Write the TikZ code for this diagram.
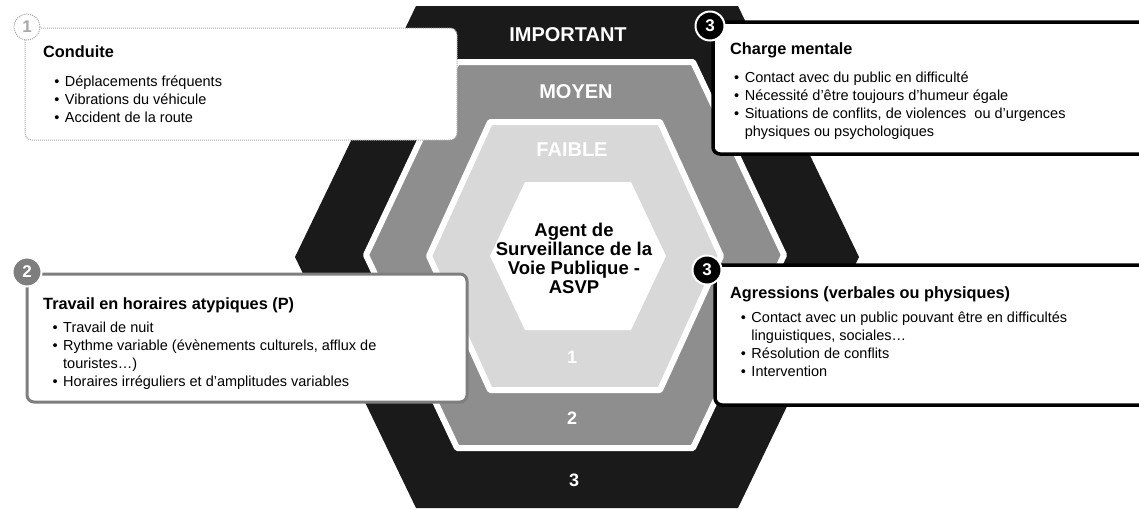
\documentclass[tikz,border=0pt]{standalone}
\usepackage{fontspec}
\setmainfont{Liberation Sans}
\definecolor{ringthree}{HTML}{1A1A1A}
\definecolor{ringtwo}{HTML}{8E8E8E}
\definecolor{ringone}{HTML}{D8D8D8}
\definecolor{cardgray}{HTML}{7E7E7E}
\definecolor{fadedgray}{HTML}{A8A8A8}
\begin{document}
\begin{tikzpicture}[x=1pt,y=-1pt]
\tikzset{
  ringlabel/.style={text=white, inner sep=0pt, font=\bfseries\fontsize{20}{22}\selectfont},
  ringnum/.style={text=white, inner sep=0pt, font=\bfseries\fontsize{18}{20}\selectfont},
  card/.style={fill=white, rounded corners=7pt, inner sep=0pt},
  cardtitle/.style={anchor=base west, inner sep=0pt, font=\bfseries\fontsize{16.3}{19}\selectfont},
  cardlist/.style={anchor=north west, inner sep=0pt, align=left, font=\fontsize{14.5}{18}\selectfont},
  badge/.style={circle, minimum size=29pt, inner sep=0pt, text=white,
                font=\bfseries\fontsize{17}{19}\selectfont},
}
\newcommand{\bulletlist}[1]{\begin{tabular}{@{}l@{\hspace{5.5pt}}l@{}}#1\end{tabular}}

\useasboundingbox (0,0) rectangle (1139,509);
\clip (0,0) rectangle (1139,509);

% concentric hexagons: important / moyen / faible
\fill[ringthree] (416,6) -- (738,6) -- (859,257) -- (738,508) -- (416,508) -- (295,257) -- cycle;
\filldraw[fill=ringtwo, draw=white, line width=6pt, line join=round]
  (457,62) -- (693,62) -- (784,255) -- (693,448) -- (457,448) -- (366,255) -- cycle;
\filldraw[fill=ringone, draw=white, line width=6pt, line join=round]
  (490,122) -- (660,122) -- (721,256) -- (660,390) -- (490,390) -- (429,256) -- cycle;
\fill[white] (525,182) -- (631,182) -- (666,256) -- (631,330) -- (525,330) -- (490,256) -- cycle;

% ring labels
\node[ringlabel] (limp) at (568,35) {IMPORTANT};
\node[ringlabel] (lmoy) at (576,92) {MOYEN};
\node[ringlabel, text=white] (lfai) at (572,150) {FAIBLE};
\node[ringnum] (n1) at (572,357) {1};
\node[ringnum] (n2) at (572,418) {2};
\node[ringnum] (n3) at (574,480) {3};

\node[align=center, inner sep=0pt, font=\bfseries\fontsize{18.5}{19}\selectfont] (centre) at (574,258)
  {Agent de\\Surveillance de la\\Voie Publique -\\ASVP};

% card 1 : Conduite (faded)
\node[card, draw=fadedgray, densely dotted, line width=1pt, minimum width=432pt, minimum height=112pt]
  (c1) at (241,84) {};
\node[badge, draw=fadedgray, densely dotted, line width=1pt, fill=white, text=fadedgray,
      minimum size=26pt] (b1) at (27,27) {1};
\node[cardtitle] (t1) at (43,57) {Conduite};
\node[cardlist] (l1) at (54.1,73.2) {\bulletlist{
  • & Déplacements fréquents\\
  • & Vibrations du véhicule\\
  • & Accident de la route}};

% card 3 : Charge mentale
\node[card, draw=black, line width=3.5pt, minimum width=447pt, minimum height=132pt]
  (c3a) at (936.5,88) {};
\node[badge, fill=black, draw=white, line width=2pt] (b3a) at (710,26) {3};
\node[cardtitle] (t3a) at (730,54.5) {Charge mentale};
\node[cardlist] (l3a) at (734,69.2) {\bulletlist{
  • & Contact avec du public en difficulté\\
  • & Nécessité d'être toujours d'humeur égale\\
  • & Situations de conflits, de violences\ \ ou d'urgences\\
    & physiques ou psychologiques}};

% card 2 : Travail en horaires atypiques
\node[card, draw=cardgray, line width=3pt, minimum width=440pt, minimum height=128pt]
  (c2) at (247,338) {};
\node[badge, fill=cardgray, draw=white, line width=2pt] (b2) at (27,272) {2};
\node[cardtitle] (t2) at (43,309) {Travail en horaires atypiques (P)};
\node[cardlist] (l2) at (52.4,319.2) {\bulletlist{
  • & Travail de nuit\\
  • & Rythme variable (évènements culturels, afflux de\\
    & touristes…)\\
  • & Horaires irréguliers et d'amplitudes variables}};

% card 3 : Agressions
\node[card, draw=black, line width=3.5pt, minimum width=445pt, minimum height=140pt]
  (c3b) at (937.5,335) {};
\node[badge, fill=black, draw=white, line width=2pt] (b3b) at (707,270) {3};
\node[cardtitle] (t3b) at (730,298) {Agressions (verbales ou physiques)};
\node[cardlist] (l3b) at (740.7,309.2) {\bulletlist{
  • & Contact avec un public pouvant être en difficultés\\
    & linguistiques, sociales…\\
  • & Résolution de conflits\\
  • & Intervention}};
\end{tikzpicture}
\end{document}
